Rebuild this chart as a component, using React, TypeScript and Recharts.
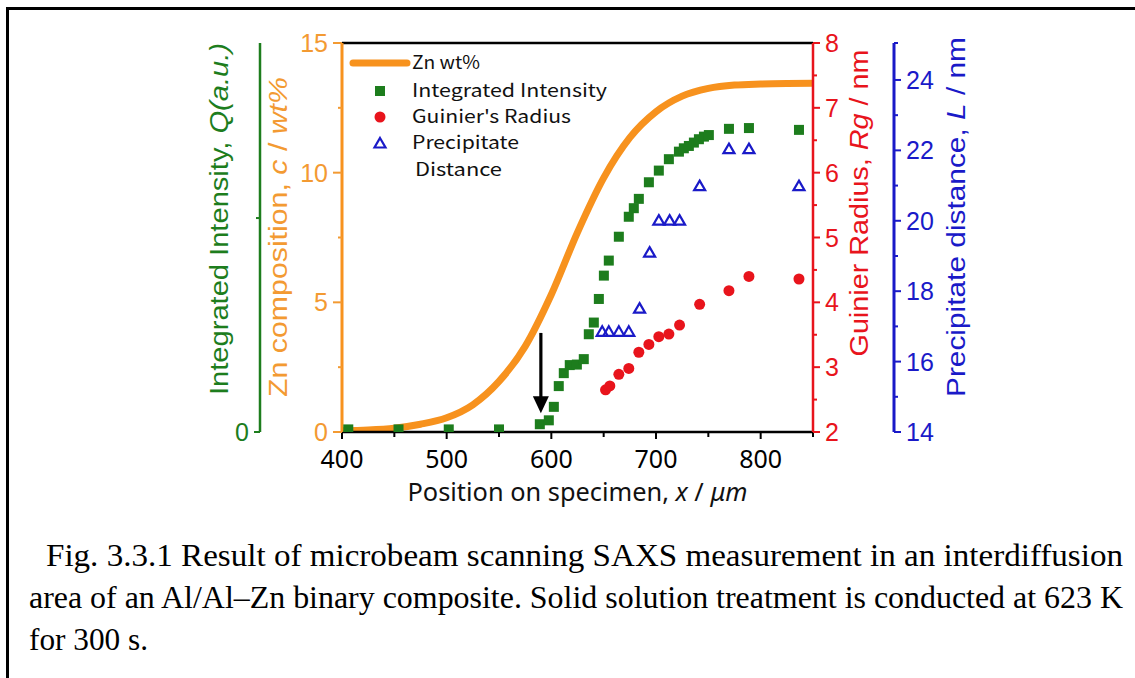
import React from "react";
import {
  ComposedChart,
  Line,
  Scatter,
  XAxis,
  YAxis,
  ReferenceLine,
  Legend,
} from "recharts";

// Zn composition profile, c / wt%
const znX = [400, 425, 450, 475, 500, 525, 550, 575, 600, 625, 650, 675, 700, 725, 750, 775, 800, 825, 850];
const znC = [0.05, 0.08, 0.15, 0.3, 0.55, 1.05, 1.95, 3.3, 5.3, 7.7, 9.8, 11.35, 12.35, 12.95, 13.25, 13.38, 13.42, 13.44, 13.45];

// Integrated intensity Q (a.u.)
const qX = [406, 454, 502, 550, 589, 597.6, 602.4, 607.1, 611.9, 617.6, 624.4, 631, 635.8, 640.6, 645.4, 650.2, 654.9, 664.5, 674, 678.8, 683.6, 693.2, 702.7, 712.3, 721.9, 726.6, 731.4, 736.2, 741, 745.8, 750.5, 769.7, 788.8, 836.6];
const qVal = [0.1, 0.1, 0.1, 0.1, 0.3, 0.45, 0.97, 1.77, 2.27, 2.58, 2.6, 2.81, 3.77, 4.22, 5.13, 6.03, 6.61, 7.53, 8.3, 8.63, 8.99, 9.63, 10.08, 10.52, 10.81, 10.94, 11.03, 11.16, 11.29, 11.39, 11.45, 11.69, 11.72, 11.65];

// Guinier radius Rg / nm
const rgX = [651.8, 655.9, 664.5, 674, 683.6, 693.2, 702.7, 712.3, 722.5, 741.7, 769.7, 788.8, 836.6];
const rgVal = [2.65, 2.71, 2.89, 2.98, 3.23, 3.35, 3.47, 3.51, 3.65, 3.97, 4.18, 4.4, 4.36];

// Precipitate distance L / nm
const lX = [648.6, 654.9, 664.5, 674, 684.3, 693.9, 702.7, 713, 722.5, 741.7, 769.7, 788.8, 836.6];
const lVal = [16.86, 16.86, 16.86, 16.86, 17.52, 19.11, 20.02, 20.02, 20.02, 21.0, 22.05, 22.05, 21.0];

// arrow marking the interface
const arrowX = 590;
const arrowFrom = 3.82;
const arrowTo = 0.72;

const xTicks = [400, 450, 500, 550, 600, 650, 700, 750, 800, 850];
const xLabels = [400, 500, 600, 700, 800];
const cTicks = [0, 2.5, 5, 7.5, 10, 12.5, 15];
const cLabels = [0, 5, 10, 15];
const qTicks = [0, 8.25];
const qLabels = [0];
const rgTicks = [2, 2.5, 3, 3.5, 4, 4.5, 5, 5.5, 6, 6.5, 7, 7.5, 8];
const rgLabels = [2, 3, 4, 5, 6, 7, 8];
const lTicks = [14, 15, 16, 17, 18, 19, 20, 21, 22, 23, 24, 25.05];
const lLabels = [14, 16, 18, 20, 22, 24];

const legendItems = ["Zn wt%", "Integrated Intensity", "Guinier's Radius", "Precipitate", "Distance"];

const captionLines = [
  "Fig. 3.3.1 Result of microbeam scanning SAXS measurement in an interdiffusion",
  "area of an Al/Al\u2013Zn binary composite. Solid solution treatment is conducted at 623 K",
  "for 300 s.",
];

const ORANGE = "#f7921e";
const ORANGE_TXT = "#f39a32";
const GREEN = "#1d7d1d";
const RED = "#e8141c";
const BLUE = "#1a1ac8";
const SANS = "'Liberation Sans', Arial, sans-serif";

const znData = znX.map((x, i) => ({ x, c: znC[i] }));
const qData = qX.map((x, i) => ({ x, q: qVal[i] }));
const rgData = rgX.map((x, i) => ({ x, rg: rgVal[i] }));
const lData = lX.map((x, i) => ({ x, L: lVal[i] }));

// tick: major ticks get a label, minor ones only a short mark
function SideTick(props: any) {
  const { x, y, payload, side, col, labelVals, big = 8, small = 4 } = props;
  const v = payload.value;
  const major = labelVals.includes(v);
  const len = major ? big : small;
  if (side === "bottom") {
    return (
      <g>
        <line x1={x} x2={x} y1={y} y2={y + len} stroke={col} strokeWidth={2} />
        {major && (
          <text x={x} y={y + 36} textAnchor="middle" fill={col} fontSize={25} fontFamily="'Noto Sans', sans-serif">
            {v}
          </text>
        )}
      </g>
    );
  }
  const dir = side === "left" ? -1 : 1;
  return (
    <g>
      <line x1={x} x2={x + dir * len} y1={y} y2={y} stroke={col} strokeWidth={2} />
      {major && (
        <text
          x={x + dir * (len + 5)}
          y={y}
          dy="0.36em"
          textAnchor={side === "left" ? "end" : "start"}
          fill={col}
          fontSize={25}
          fontFamily={SANS}
        >
          {v}
        </text>
      )}
    </g>
  );
}

// rotated axis title, parts = [text, italic?]
function YTitle(props: any) {
  const { viewBox, parts, col, dx, dy, len } = props;
  const x = viewBox.x + dx;
  const y = viewBox.y + dy;
  return (
    <text
      x={x}
      y={y}
      transform={`rotate(-90 ${x} ${y})`}
      textAnchor="middle"
      fill={col}
      fontSize={25}
      fontFamily={SANS}
      textLength={len}
      lengthAdjust="spacingAndGlyphs"
    >
      {parts.map((p: [string, boolean], i: number) => (
        <tspan key={i} fontStyle={p[1] ? "italic" : "normal"}>
          {p[0]}
        </tspan>
      ))}
    </text>
  );
}

function XTitle(props: any) {
  const { viewBox } = props;
  const x = viewBox.x + viewBox.width / 2;
  return (
    <text x={x} y={viewBox.y + 69} textAnchor="middle" fill="#111" fontSize={25} fontFamily="'Noto Sans', sans-serif" textLength={340} lengthAdjust="spacingAndGlyphs">
      <tspan>Position on specimen, </tspan>
      <tspan fontStyle="italic">x</tspan>
      <tspan> / </tspan>
      <tspan fontStyle="italic">μm</tspan>
    </text>
  );
}

const Square = (p: any) => <rect x={p.cx - 5} y={p.cy - 5} width={10} height={10} fill={GREEN} />;
const Dot = (p: any) => <circle cx={p.cx} cy={p.cy} r={5.5} fill={RED} />;
const Tri = (p: any) => (
  <polygon
    points={`${p.cx},${p.cy - 5} ${p.cx + 5.5},${p.cy + 4.5} ${p.cx - 5.5},${p.cy + 4.5}`}
    fill="none"
    stroke={BLUE}
    strokeWidth={2.2}
    strokeLinejoin="miter"
  />
);

const ArrowShape = (p: any) => {
  const { x1, y1, x2, y2 } = p;
  const head = 17;
  return (
    <g>
      <line x1={x1} y1={y1} x2={x2} y2={y2 - head + 2} stroke="#000" strokeWidth={3.2} />
      <polygon points={`${x2 - 8},${y2 - head} ${x2 + 8},${y2 - head} ${x2},${y2}`} fill="#000" />
    </g>
  );
};

const LegendBox = () => {
  const rows = [15, 43, 69, 95, 122];
  const lens = [68, 195, 159, 107, 87];
  return (
    <svg width={290} height={140} style={{ overflow: "visible" }}>
      <line x1={8} x2={62} y1={rows[0]} y2={rows[0]} stroke={ORANGE} strokeWidth={7} strokeLinecap="round" />
      <Square cx={35} cy={rows[1]} />
      <Dot cx={35} cy={rows[2]} />
      <Tri cx={35} cy={rows[3]} />
      {legendItems.map((t, i) => (
        <text
          key={t}
          x={i === 4 ? 70 : 67}
          y={rows[i]}
          dy="0.36em"
          fontSize={18}
          fill="#111"
          fontFamily="'Noto Sans CJK JP', sans-serif"
          textLength={lens[i]}
          lengthAdjust="spacingAndGlyphs"
        >
          {t}
        </text>
      ))}
    </svg>
  );
};

export default function App() {
  return (
    <div style={{ position: "fixed", left: 0, top: 0, width: 1135, height: 678, background: "#fff", overflow: "hidden" }}>
      <div
        style={{
          position: "absolute",
          left: 6,
          top: 7,
          width: 1300,
          height: 800,
          borderLeft: "3px solid #000",
          borderTop: "3px solid #000",
        }}
      />
      <div style={{ position: "absolute", left: 0, top: 0 }}>
        <ComposedChart width={1135} height={520} margin={{ top: 43, right: 141, bottom: 28, left: 200 }}>
          <XAxis
            type="number"
            dataKey="x"
            domain={[400, 850]}
            ticks={xTicks}
            interval={0}
            allowDataOverflow
            height={60}
            tickSize={0}
            tickMargin={0}
            tickLine={false}
            axisLine={{ stroke: "#000", strokeWidth: 2.5 }}
            tick={<SideTick side="bottom" col="#000" labelVals={xLabels} big={7} small={5} />}
            label={<XTitle />}
          />
          <YAxis
            yAxisId="c"
            orientation="left"
            width={82}
            domain={[0, 15]}
            ticks={cTicks}
            interval={0}
            allowDataOverflow
            tickSize={0}
            tickMargin={0}
            tickLine={false}
            axisLine={{ stroke: ORANGE, strokeWidth: 3 }}
            tick={<SideTick side="left" col={ORANGE_TXT} labelVals={cLabels} big={9} small={4} />}
            label={
              <YTitle
                col={ORANGE_TXT}
                dx={27}
                dy={194}
                len={320}
                parts={[["Zn composition, ", false], ["c", true], [" / ", false], ["wt%", true]]}
              />
            }
          />
          <YAxis
            yAxisId="q"
            orientation="left"
            width={60}
            domain={[0, 15]}
            ticks={qTicks}
            interval={0}
            allowDataOverflow
            tickSize={0}
            tickMargin={0}
            tickLine={false}
            axisLine={{ stroke: GREEN, strokeWidth: 2.5 }}
            tick={<SideTick side="left" col={GREEN} labelVals={qLabels} big={6} small={4} />}
            label={
              <YTitle
                col={GREEN}
                dx={28}
                dy={176}
                len={352}
                parts={[["Integrated Intensity, ", false], ["Q(a.u.)", true]]}
              />
            }
          />
          <YAxis
            yAxisId="r2"
            orientation="right"
            width={100}
            domain={[14, 25.05]}
            ticks={lTicks}
            interval={0}
            allowDataOverflow
            tickSize={0}
            tickMargin={0}
            tickLine={false}
            axisLine={{ stroke: BLUE, strokeWidth: 3 }}
            tick={<SideTick side="right" col={BLUE} labelVals={lLabels} big={7} small={4} />}
            label={
              <YTitle
                col={BLUE}
                dx={71}
                dy={174}
                len={360}
                parts={[["Precipitate distance, ", false], ["L", true], [" / nm", false]]}
              />
            }
          />
          <YAxis
            yAxisId="r1"
            orientation="right"
            width={81}
            domain={[2, 8]}
            ticks={rgTicks}
            interval={0}
            allowDataOverflow
            tickSize={0}
            tickMargin={0}
            tickLine={false}
            axisLine={{ stroke: RED, strokeWidth: 2.5 }}
            tick={<SideTick side="right" col={RED} labelVals={rgLabels} big={7} small={4} />}
            label={
              <YTitle
                col={RED}
                dx={55}
                dy={160}
                len={307}
                parts={[["Guinier Radius, ", false], ["Rg", true], [" / nm", false]]}
              />
            }
          />
          <ReferenceLine yAxisId="c" y={15} stroke="#000" strokeWidth={2.5} />
          <Line
            yAxisId="c"
            data={znData}
            dataKey="c"
            type="monotone"
            stroke={ORANGE}
            strokeWidth={7}
            dot={false}
            isAnimationActive={false}
          />
          <Scatter yAxisId="q" data={qData} dataKey="q" shape={Square} isAnimationActive={false} />
          <Scatter yAxisId="r1" data={rgData} dataKey="rg" shape={Dot} isAnimationActive={false} />
          <Scatter yAxisId="r2" data={lData} dataKey="L" shape={Tri} isAnimationActive={false} />
          <ReferenceLine
            yAxisId="c"
            segment={[
              { x: arrowX, y: arrowFrom },
              { x: arrowX, y: arrowTo },
            ]}
            shape={ArrowShape}
          />
          <Legend
            content={() => <LegendBox />}
            layout="vertical"
            align="center"
            verticalAlign="middle"
            wrapperStyle={{ left: 345, top: 48, width: 290, height: 140 }}
          />
        </ComposedChart>
      </div>
      <svg width={1135} height={678} style={{ position: "absolute", left: 0, top: 0, pointerEvents: "none" }}>
        <text x={46} y={566} fontSize={32} fontFamily="'Liberation Serif', serif" fill="#000" textLength={1077} lengthAdjust="spacingAndGlyphs">
          {captionLines[0]}
        </text>
        <text x={29} y={608} fontSize={32} fontFamily="'Liberation Serif', serif" fill="#000" textLength={1094} lengthAdjust="spacingAndGlyphs">
          {captionLines[1]}
        </text>
        <text x={29} y={650} fontSize={32} fontFamily="'Liberation Serif', serif" fill="#000" textLength={119} lengthAdjust="spacingAndGlyphs">
          {captionLines[2]}
        </text>
      </svg>
    </div>
  );
}
